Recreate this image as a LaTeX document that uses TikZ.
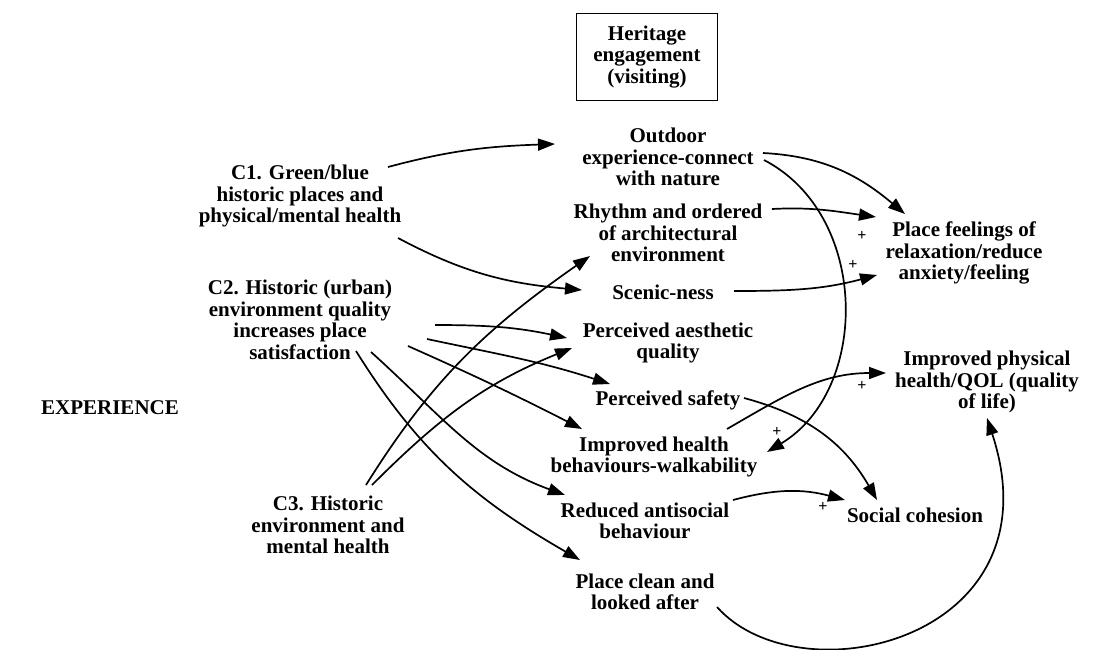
\documentclass[tikz,border=0pt]{standalone}
\usepackage{fontspec}
\setmainfont{Liberation Serif}
\usetikzlibrary{arrows.meta}
\begin{document}
\begin{tikzpicture}[x=1pt,y=-1pt,
  lbl/.style={font=\fontsize{21}{21.5}\selectfont\bfseries, align=center, inner sep=0pt},
  arr/.style={line width=1.7pt, -{Triangle[length=17pt,width=12pt]}},
  plus/.style={font=\fontsize{16}{16}\selectfont\bfseries, inner sep=0pt}]
\useasboundingbox (0,0) rectangle (1101,649);

% heading box and side label
\node[lbl, draw, line width=1.8pt, minimum width=141pt, minimum height=87pt] (heritage) at (647,57) {Heritage\\engagement\\(visiting)};
\node[lbl] (experience) at (110,408) {EXPERIENCE};

% sources
\node[lbl] (c1) at (300,196) {C1. Green/blue\\historic places and\\physical/mental health};
\node[lbl] (c2) at (300,320) {C2. Historic (urban)\\environment quality\\increases place\\satisfaction};
\node[lbl] (c3) at (328,525) {C3. Historic\\environment and\\mental health};

% intermediate factors
\node[lbl] (outdoor) at (668,157) {Outdoor\\experience-connect\\with nature};
\node[lbl] (rhythm) at (668,233) {Rhythm and ordered\\of architectural\\environment};
\node[lbl] (scenic) at (663,292) {Scenic-ness};
\node[lbl] (aesth) at (668,343) {Perceived aesthetic\\quality};
\node[lbl] (safety) at (668,400) {Perceived safety};
\node[lbl] (walk) at (654,457) {Improved health\\behaviours-walkability};
\node[lbl] (antisoc) at (645,521) {Reduced antisocial\\behaviour};
\node[lbl] (clean) at (645,592) {Place clean and\\looked after};

% outcomes
\node[lbl] (feel) at (964,253) {Place feelings of\\relaxation/reduce\\anxiety/feeling};
\node[lbl] (phys) at (987,382) {Improved physical\\health/QOL (quality\\of life)};
\node[lbl] (cohesion) at (915,515) {Social cohesion};

% links from C1
\draw[arr] ([shift={(88,-29)}]c1.center) to[out=15,in=182] ([shift={(-113,-13)}]outdoor.center);
\draw[arr] ([shift={(98,42)}]c1.center) to[out=-28,in=175] ([shift={(-81,-2)}]scenic.center);

% links from C2
\draw[arr] ([shift={(135,5)}]c2.center) to[out=0,in=168] ([shift={(-101,-5)}]aesth.center);
\draw[arr] ([shift={(127,19)}]c2.center) to[out=-12,in=162] ([shift={(-58,-16)}]safety.center);
\draw[arr] ([shift={(108,26)}]c2.center) to[out=-24,in=153] ([shift={(-72,-28)}]walk.center);
\draw[arr] ([shift={(71,32)}]c2.center) to[out=-42,in=160] ([shift={(-80,-26)}]antisoc.center);
\draw[arr] ([shift={(56,31)}]c2.center) to[out=-58,in=150] ([shift={(-65,-32)}]clean.center);

% links from C3
\draw[arr] ([shift={(38,-40)}]c3.center) to[out=58,in=-145] ([shift={(-78,23)}]rhythm.center);
\draw[arr] ([shift={(44,-40)}]c3.center) to[out=45,in=-158] ([shift={(-96,5)}]aesth.center);

% links to the outcomes
\draw[arr] ([shift={(95,-4)}]outdoor.center) to[out=-3,in=140] ([shift={(-59,-39)}]feel.center);
\draw[arr] ([shift={(96,3)}]outdoor.center) .. controls (870,215) and (870,390) .. ([shift={(113,-5)}]walk.center);
\draw[arr] ([shift={(104,-24)}]rhythm.center) to[out=3,in=172] ([shift={(-88,-36)}]feel.center);
\draw[arr] ([shift={(71,-1)}]scenic.center) to[out=0,in=-165] ([shift={(-87,22)}]feel.center);
\draw[arr] ([shift={(73,-28)}]walk.center) to[out=30,in=180] ([shift={(-101,-9)}]phys.center);
\draw[arr] ([shift={(76,-2)}]safety.center) to[out=-15,in=120] ([shift={(-38,-15)}]cohesion.center);
\draw[arr] ([shift={(88,-21)}]antisoc.center) to[out=15,in=165] ([shift={(-70,-15)}]cohesion.center);
\draw[arr] ([shift={(72,15)}]clean.center) .. controls (800,700) and (1060,640) .. ([shift={(0,36)}]phys.center);

% polarity marks
\node[plus] (p1) at (862,236) {+};
\node[plus] (p2) at (853,265) {+};
\node[plus] (p3) at (862,386) {+};
\node[plus] (p4) at (777,432) {+};
\node[plus] (p5) at (823,507) {+};
\end{tikzpicture}
\end{document}
